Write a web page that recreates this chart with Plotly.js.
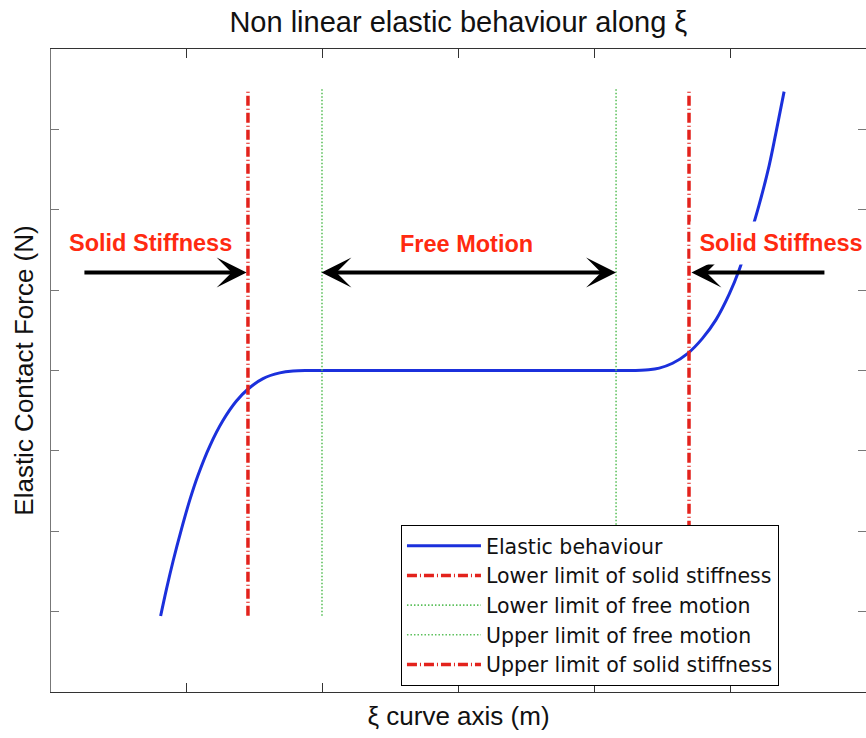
<!DOCTYPE html>
<html>
<head>
<meta charset="utf-8">
<script src="https://cdn.plot.ly/plotly-3.0.1.min.js"></script>
<style>html,body{margin:0;padding:0;background:#fff;}#chart{width:866px;height:738px;}</style>
</head>
<body>
<div id="chart"></div>
<script>
// Elastic behaviour curve
const xiValues = [0.807,0.85,0.899,0.961,1.022,1.083,1.169,1.267,1.365,1.451,1.561,1.684,1.782,1.9,2.2,2.6,3.0,3.4,3.8,4.037,4.25,4.40,4.478,4.576,4.686,4.796,4.895,4.993,5.066,5.140,5.213,5.287,5.336,5.397];
const forceValues = [0.945,1.28,1.63,2.03,2.39,2.70,3.06,3.38,3.62,3.77,3.90,3.97,3.994,4.0,4.0,4.0,4.0,4.0,4.0,4.0,4.0,4.01,4.03,4.09,4.21,4.40,4.63,4.95,5.25,5.64,6.06,6.55,6.95,7.47];
// limit positions along xi
const limitNames = ["Lower limit of solid stiffness","Lower limit of free motion","Upper limit of free motion","Upper limit of solid stiffness"];
const limitValues = [1.45, 1.995, 4.16, 4.697];
const limitKinds = ["solid","free","free","solid"];
const limitSpan = [0.95, 7.5];
const curveName = "Elastic behaviour";

const red = '#e3221c', green = '#5cc05c', blue = '#1b30dc';
const traces = [{
  x: xiValues, y: forceValues, name: curveName, type: 'scatter', mode: 'lines',
  line: {color: blue, width: 3, shape: 'spline', smoothing: 1}
}];
limitValues.forEach((v, i) => {
  const solid = limitKinds[i] === 'solid';
  traces.push({
    x: [v, v], y: limitSpan, name: limitNames[i], type: 'scatter', mode: 'lines',
    line: solid ? {color: red, width: 3.5, dash: '10px,3px,1px,3px'} : {color: green, width: 1.6, dash: '1.5px,2px'}
  });
});

const arrowBase = {xref:'x', yref:'y', axref:'x', ayref:'y', showarrow:true, arrowhead:3, arrowsize:1.25, arrowwidth:4, arrowcolor:'#000', text:'', standoff:0, startstandoff:0};
const labelFont = {family:'Liberation Sans, Arial, sans-serif', size:23.5, color:'#ff2a10', weight:'bold'};
const layout = {
  width: 866, height: 738,
  margin: {l: 51, r: 0, t: 49, b: 46},
  paper_bgcolor: '#fff', plot_bgcolor: '#fff',
  font: {family: 'Liberation Sans, Arial, sans-serif', color: '#111'},
  title: {text: 'Non linear elastic behaviour along ξ', font: {size: 29, color: '#111'}, x: 0.5293, xanchor: 'center', y: 0.970, yanchor: 'middle', yref: 'container'},
  xaxis: {range: [0, 6], dtick: 1, tick0: 0, showticklabels: false, ticks: 'inside', ticklen: 9, tickcolor: '#333',
          showline: true, linecolor: '#333', linewidth: 1.2, mirror: 'ticks', showgrid: false, zeroline: false,
          title: {text: 'ξ curve axis (m)', font: {size: 26}, standoff: 14}},
  yaxis: {range: [0, 8], dtick: 1, tick0: 0, showticklabels: false, ticks: 'inside', ticklen: 8, tickcolor: '#777',
          showline: true, linecolor: '#777', linewidth: 1.2, mirror: 'ticks', showgrid: false, zeroline: false,
          title: {text: 'Elastic Contact Force (N)', font: {size: 26}, standoff: 8}},
  showlegend: true,
  legend: {x: 0.4294, xanchor: 'left', y: 0.0093, yanchor: 'bottom', bgcolor: '#fff', bordercolor: '#000', borderwidth: 1,
           font: {family: 'DejaVu Sans, sans-serif', size: 20.5, color: '#111'}, itemwidth: 74, tracegroupgap: 0},
  annotations: [
    Object.assign({}, arrowBase, {x: 1.44, y: 5.22, ax: 0.235, ay: 5.22}),
    Object.assign({}, arrowBase, {x: 4.16, y: 5.22, ax: 1.98, ay: 5.22, arrowside: 'end+start'}),
    Object.assign({}, arrowBase, {x: 4.715, y: 5.22, ax: 5.705, ay: 5.22}),
    {xref:'x', yref:'y', x: 0.736, y: 5.585, text: 'Solid Stiffness', showarrow: false, font: labelFont},
    {xref:'x', yref:'y', x: 3.056, y: 5.57, text: 'Free Motion', showarrow: false, font: labelFont},
    {xref:'x', yref:'y', x: 5.375, y: 5.585, text: 'Solid Stiffness', showarrow: false, font: labelFont, bgcolor: '#fff', width: 178, height: 40}
  ]
};
Plotly.newPlot('chart', traces, layout, {displayModeBar: false, staticPlot: true});
</script>
</body>
</html>
